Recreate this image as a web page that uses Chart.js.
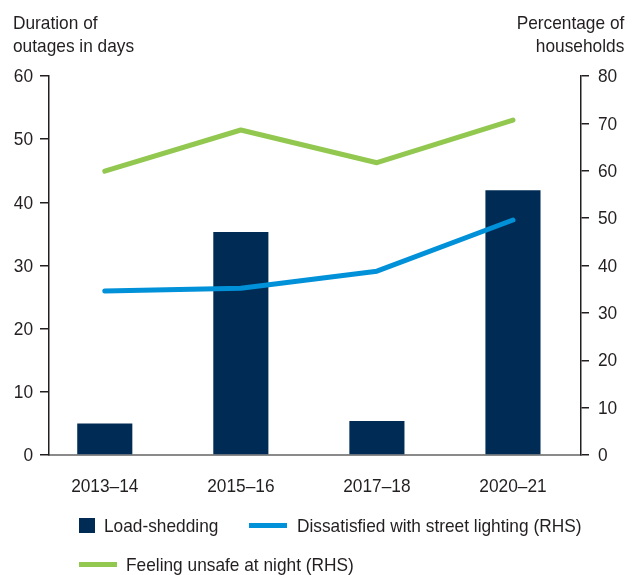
<!DOCTYPE html>
<html>
<head>
<meta charset="utf-8">
<script src="https://cdn.jsdelivr.net/npm/chart.js@4/dist/chart.umd.min.js"></script>
<style>
  html, body { margin: 0; padding: 0; background: #fff; }
  #wrap { position: relative; width: 639px; height: 575px; font-family: "Liberation Sans", Arial, sans-serif; color: #231f20; }
  canvas { position: absolute; left: 0; top: 0; }
  .ttl { position: absolute; font-size: 19px; line-height: 23px; white-space: nowrap; }
  .narrow { display: inline-block; transform: scaleX(0.91); }
  .leg { position: absolute; font-size: 19px; line-height: 22px; white-space: nowrap; transform: scaleX(0.91); transform-origin: left center; }
  .sw { position: absolute; }
</style>
</head>
<body>
<div id="wrap">
  <canvas id="c" width="639" height="575"></canvas>
  <div class="ttl" style="left:13px; top:11px;"><span class="narrow" style="transform-origin:left center;">Duration of<br>outages in days</span></div>
  <div class="ttl" style="right:15px; top:11px; text-align:right;"><span class="narrow" style="transform-origin:right center;">Percentage of<br>households</span></div>
  <div id="legend"></div>
</div>
<script>
// Financial years surveyed
const categories = ["2013\u201314", "2015\u201316", "2017\u201318", "2020\u201321"];
// Days of load-shedding (left axis)
const loadShedding = [5.0, 35.3, 5.4, 41.9];
// Share of households, per cent (right axis)
const dissatisfiedLighting = [34.6, 35.2, 38.8, 49.6];
const unsafeAtNight = [59.9, 68.6, 61.7, 70.7];
// Axis tick values
const leftTicks = [0, 10, 20, 30, 40, 50, 60];
const rightTicks = [0, 10, 20, 30, 40, 50, 60, 70, 80];

const NAVY = "#002b54", BLUE = "#0091d9", GREEN = "#92c84f";
const TXT = "#231f20";
const FAMILY = '"Liberation Sans", Arial, sans-serif';
const SQUEEZE = 0.91; // condensed look for the label face

const xy = arr => arr.map((v, i) => ({ x: i, y: v }));

const datasets = [
  { type: "line", label: "Dissatisfied with street lighting (RHS)", data: xy(dissatisfiedLighting), yAxisID: "y1",
    borderColor: BLUE, borderWidth: 5, pointRadius: 0, tension: 0, borderCapStyle: "round", borderJoinStyle: "round", order: 1 },
  { type: "line", label: "Feeling unsafe at night (RHS)", data: xy(unsafeAtNight), yAxisID: "y1",
    borderColor: GREEN, borderWidth: 5, pointRadius: 0, tension: 0, borderCapStyle: "round", borderJoinStyle: "round", order: 1 },
  { type: "bar", label: "Load-shedding", data: xy(loadShedding), yAxisID: "y",
    backgroundColor: NAVY, barPercentage: 0.81, categoryPercentage: 0.5, order: 2 }
];

// Tick labels drawn with a slightly condensed face, placed by the scales
const condensedLabels = {
  id: "condensedLabels",
  afterDraw(chart) {
    const { ctx, chartArea, scales } = chart;
    const put = (txt, x, y, align) => {
      ctx.save();
      ctx.translate(x, y);
      ctx.scale(SQUEEZE, 1);
      ctx.font = `19px ${FAMILY}`;
      ctx.fillStyle = TXT;
      ctx.textAlign = align;
      ctx.textBaseline = "middle";
      ctx.fillText(txt, 0, 0);
      ctx.restore();
    };
    leftTicks.forEach(v => put(String(v), chartArea.left - 16, scales.y.getPixelForValue(v) + 1, "right"));
    rightTicks.forEach(v => put(String(v), chartArea.right + 17, scales.y1.getPixelForValue(v) + 1, "left"));
    categories.forEach((c, i) => put(c, scales.x.getPixelForValue(i), 487, "center"));
  }
};

new Chart(document.getElementById("c"), {
  data: { datasets },
  plugins: [condensedLabels],
  options: {
    responsive: false,
    animation: false,
    layout: { padding: { top: 76, left: 0, right: 0, bottom: 0 } },
    plugins: { legend: { display: false }, tooltip: { enabled: false } },
    scales: {
      x: {
        type: "linear", min: -0.41, max: 3.5, offset: false, bounds: "data",
        afterBuildTicks: s => { s.ticks = categories.map((c, i) => ({ value: i })); },
        grid: { display: false, drawTicks: false, offset: false },
        border: { color: "#8a8a8a", width: 2 },
        ticks: { display: false },
        afterFit: s => { s.height = 120; }
      },
      y: {
        position: "left", min: 0, max: 60,
        afterBuildTicks: s => { s.ticks = leftTicks.map(v => ({ value: v })); },
        grid: { drawOnChartArea: false, drawTicks: true, tickLength: 9, color: TXT, lineWidth: 1.5 },
        border: { color: TXT, width: 1.5 },
        ticks: { display: false },
        afterFit: s => { s.width = 49; }
      },
      y1: {
        position: "right", min: 0, max: 80,
        afterBuildTicks: s => { s.ticks = rightTicks.map(v => ({ value: v })); },
        grid: { drawOnChartArea: false, drawTicks: true, tickLength: 8, color: TXT, lineWidth: 1.5 },
        border: { color: TXT, width: 1.5 },
        ticks: { display: false },
        afterFit: s => { s.width = 58; }
      }
    }
  }
});

// Legend laid out in two rows below the axis
const legend = document.getElementById("legend");
const items = [
  { label: datasets[2].label, color: NAVY, box: true, x: 79, y: 525, textX: 104 },
  { label: datasets[0].label, color: BLUE, box: false, x: 249, y: 525, textX: 297 },
  { label: datasets[1].label, color: GREEN, box: false, x: 79, y: 564, textX: 126 }
];
items.forEach(it => {
  const sw = document.createElement("div");
  sw.className = "sw";
  if (it.box) {
    sw.style.cssText = `left:${it.x}px; top:${it.y - 7}px; width:16px; height:15px; background:${it.color};`;
  } else {
    sw.style.cssText = `left:${it.x}px; top:${it.y - 2.5}px; width:38px; height:5px; background:${it.color};`;
  }
  legend.appendChild(sw);
  const t = document.createElement("div");
  t.className = "leg";
  t.textContent = it.label;
  t.style.left = it.textX + "px";
  t.style.top = (it.y - 10.5) + "px";
  legend.appendChild(t);
});
</script>
</body>
</html>
